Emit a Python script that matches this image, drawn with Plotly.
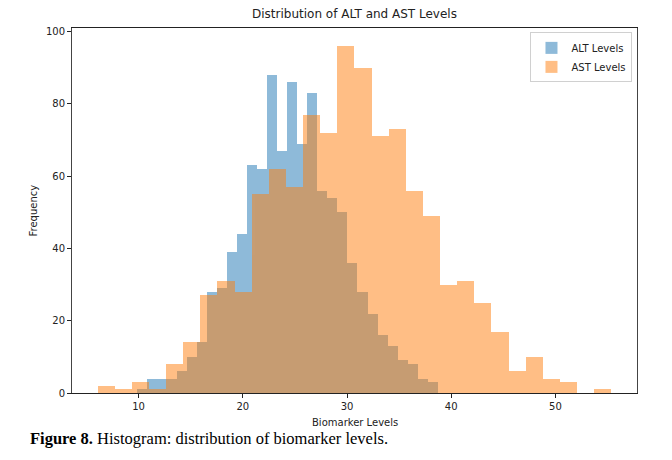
import plotly.graph_objects as go

# ---- data ----
alt_counts = [1, 4, 4, 4, 6, 10, 14, 28, 29, 39, 44, 63, 62, 88, 67,
              86, 69, 83, 56, 54, 50, 36, 28, 22, 16, 13, 9, 8, 4, 3]
alt_bin_start = 9.83
alt_bin_width = 0.9626

ast_counts = [2, 1, 3, 1, 8, 14, 27, 31, 28, 55, 62, 57, 77, 72, 96,
              90, 71, 73, 56, 49, 30, 31, 25, 17, 6, 10, 4, 3, 0, 1]
ast_bin_start = 6.07
ast_bin_width = 1.643

x_ticks = [10, 20, 30, 40, 50]
y_ticks = [0, 20, 40, 60, 80, 100]

alt_left = [alt_bin_start + i * alt_bin_width for i in range(len(alt_counts))]
ast_left = [ast_bin_start + i * ast_bin_width for i in range(len(ast_counts))]

FONT = "DejaVu Sans"

fig = go.Figure()
fig.add_trace(go.Bar(
    x=alt_left, y=alt_counts, width=alt_bin_width, offset=0,
    name="ALT Levels", marker=dict(color="#1f77b4", line=dict(width=0)),
    opacity=0.5,
))
fig.add_trace(go.Bar(
    x=ast_left, y=ast_counts, width=ast_bin_width, offset=0,
    name="AST Levels", marker=dict(color="#ff7f0e", line=dict(width=0)),
    opacity=0.5,
))

fig.update_layout(
    width=672, height=460,
    margin=dict(l=72, r=35, t=28, b=67),
    paper_bgcolor="white", plot_bgcolor="white",
    barmode="overlay", bargap=0,
    font=dict(family=FONT, size=10, color="#222"),
    title=dict(text="Distribution of ALT and AST Levels", x=(72 + 637) / 2 / 672,
               xanchor="center", y=1 - 14 / 460, yanchor="middle",
               font=dict(family=FONT, size=12, color="#222")),
    showlegend=True,
    legend=dict(x=0.992, xanchor="right", y=0.988, yanchor="top",
                bgcolor="white", bordercolor="#d0d0d0", borderwidth=1,
                font=dict(family=FONT, size=10, color="#222"),
                itemwidth=30),
    xaxis=dict(range=[3.61, 57.83], tickvals=x_ticks, ticks="outside",
               ticklen=4, tickcolor="#222", showgrid=False, zeroline=False,
               showline=True, linecolor="#222", linewidth=1, mirror=True,
               tickfont=dict(family=FONT, size=10, color="#222")),
    yaxis=dict(range=[0, 101], tickvals=y_ticks, ticks="outside",
               ticklen=4, tickcolor="#222", showgrid=False, zeroline=False,
               showline=True, linecolor="#444", linewidth=1, mirror=True,
               tickfont=dict(family=FONT, size=10, color="#222")),
    annotations=[
        dict(text="Biomarker Levels", xref="paper", yref="paper",
             x=0.5, y=(393 - 422) / 365, xanchor="center", yanchor="middle",
             showarrow=False, font=dict(family=FONT, size=10, color="#222")),
        dict(text="Frequency", xref="paper", yref="paper", textangle=-90,
             x=(33 - 72) / 565, y=0.5, xanchor="center", yanchor="middle",
             showarrow=False, font=dict(family=FONT, size=10, color="#222")),
        dict(text="<b>Figure 8.</b> Histogram: distribution of biomarker levels.",
             xref="paper", yref="paper", x=(28 - 72) / 565, y=(393 - 438) / 365,
             xanchor="left", yanchor="middle", showarrow=False,
             font=dict(family="Liberation Serif", size=16.5, color="#000")),
    ],
)

fig.write_html("out.html")
